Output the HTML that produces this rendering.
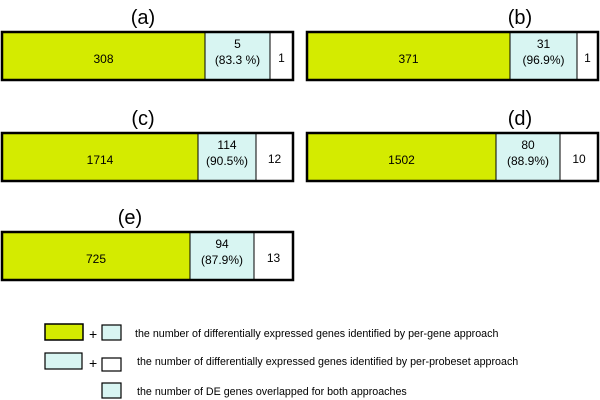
<!DOCTYPE html>
<html><head><meta charset="utf-8"><style>
body{margin:0;background:#fff;font-family:"Liberation Sans",Arial,sans-serif}
svg{display:block}
</style></head><body>
<svg width="600" height="400" viewBox="0 0 600 400">
<g id="panels"></g>
<g font-size="10.7" fill="#000">
  <rect x="45" y="324" width="38" height="16" fill="#d4eb00" stroke="#000" stroke-width="1.5"/>
  <text x="89" y="339" font-size="14">+</text>
  <rect x="102" y="325" width="19" height="15" fill="#d8f5f2" stroke="#000" stroke-width="1.2"/>
  <text x="135" y="337">the number of differentially expressed genes identified by per-gene approach</text>
  <rect x="45" y="353" width="37" height="16" fill="#d8f5f2" stroke="#000" stroke-width="1.2"/>
  <text x="89" y="368" font-size="14">+</text>
  <rect x="102" y="358" width="19" height="13" fill="#fff" stroke="#000" stroke-width="1.2"/>
  <text x="137" y="365">the number of differentially expressed genes identified by per-probeset approach</text>
  <rect x="102" y="383" width="19" height="15" fill="#d8f5f2" stroke="#000" stroke-width="1.2"/>
  <text x="137" y="395">the number of DE genes overlapped for both approaches</text>
</g>
</svg>
<script>
const panelLabels = ["(a)","(b)","(c)","(d)","(e)"];
const perGeneOnly = [308, 371, 1714, 1502, 725];
const overlap = [5, 31, 114, 80, 94];
const overlapPct = ["(83.3 %)","(96.9%)","(90.5%)","(88.9%)","(87.9%)"];
const probesetOnly = [1, 1, 12, 10, 13];

const layout = [
  {x:2,y:32,w:291,g:203,c:65,tx:143},
  {x:307,y:32,w:291,g:203,c:67,tx:520},
  {x:2,y:133,w:291,g:196,c:58,tx:143},
  {x:307,y:133,w:291,g:189,c:64,tx:520},
  {x:2,y:232,w:291,g:188,c:64,tx:130}
];
const NS="http://www.w3.org/2000/svg";
const root=document.getElementById('panels');
function mk(tag,attrs,parent,txt){const e=document.createElementNS(NS,tag);for(const k in attrs)e.setAttribute(k,attrs[k]);if(txt!==undefined)e.textContent=txt;parent.appendChild(e);return e;}
panelLabels.forEach((lab,i)=>{
  const L=layout[i],h=48;
  const g=mk('g',{},root);
  
  
  const t=mk('text',{x:L.tx,y:L.y-8,'text-anchor':'middle','font-size':'20'},g,lab);
  
  
  const r1=mk('rect',{x:L.x,y:L.y,width:L.g,height:h,fill:'#d4eb00',stroke:'#000','stroke-width':1},g);
  
  
  const r2=mk('rect',{x:L.x+L.g,y:L.y,width:L.c,height:h,fill:'#d8f5f2',stroke:'#000','stroke-width':1},g);
  
  
  const r3=mk('rect',{x:L.x+L.g+L.c,y:L.y,width:L.w-L.g-L.c,height:h,fill:'#fff',stroke:'#000','stroke-width':1},g);
  
  
  const o=mk('rect',{x:L.x,y:L.y,width:L.w,height:h,fill:'none',stroke:'#000','stroke-width':2.5},g);
  
  
  const t1=mk('text',{x:L.x+L.g/2,y:L.y+31,'text-anchor':'middle','font-size':'12'},g,String(perGeneOnly[i]));
  
  
  const cx=L.x+L.g+L.c/2;
  const t2=mk('text',{x:cx,y:L.y+16,'text-anchor':'middle','font-size':'12'},g,String(overlap[i]));
  
  
  const t3=mk('text',{x:cx,y:L.y+32,'text-anchor':'middle','font-size':'12'},g,overlapPct[i]);
  
  
  const t4=mk('text',{x:L.x+L.g+L.c+(L.w-L.g-L.c)/2,y:L.y+30,'text-anchor':'middle','font-size':'12'},g,String(probesetOnly[i]));
  
  
});
</script>
</body></html>
